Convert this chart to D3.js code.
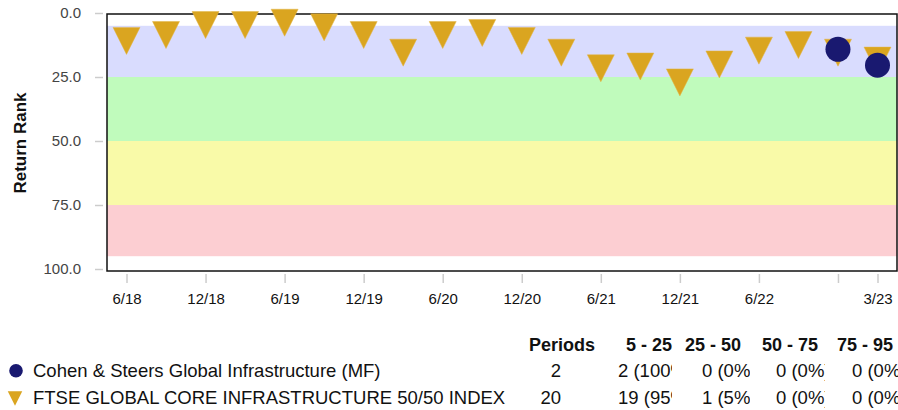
<!DOCTYPE html>
<html>
<head>
<meta charset="utf-8">
<script src="https://cdn.jsdelivr.net/npm/d3@7"></script>
<style>
  html, body { margin: 0; padding: 0; background: #fff; }
  svg { display: block; font-family: "Liberation Sans", Arial, Helvetica, sans-serif; }
</style>
</head>
<body>
<svg id="chart" width="898" height="410"></svg>
<script>
// ---------- data ----------
const quarters = ["6/18","9/18","12/18","3/19","6/19","9/19","12/19","3/20","6/20","9/20",
                  "12/20","3/21","6/21","9/21","12/21","3/22","6/22","9/22","12/22","3/23"];
const indexRanks = [10.9, 8.6, 4.7, 4.7, 3.8, 5.6, 8.6, 15.5, 8.6, 7.8,
                    10.9, 15.5, 21.6, 20.9, 27.1, 20.1, 14.7, 12.5, 15.5, 18.6];
const fundQuarters = ["12/22","3/23"];
const fundRanks = [14.2, 20.4];
const tickQuarters = ["6/18","12/18","6/19","12/19","6/20","12/20","6/21","12/21","6/22","12/22","3/23"];
const hiddenTickLabels = ["12/22"];
const yTicks = [0, 25, 50, 75, 100];
const bands = [
  {from: 5,  to: 25, color: "#D9DCFE"},
  {from: 25, to: 50, color: "#C0FBBC"},
  {from: 50, to: 75, color: "#F9FAA8"},
  {from: 75, to: 95, color: "#FCCED2"}
];
const seriesNames = ["Cohen & Steers Global Infrastructure (MF)", "FTSE GLOBAL CORE INFRASTRUCTURE 50/50 INDEX"];
const tableHeaders = ["Periods", "5 - 25", "25 - 50", "50 - 75", "75 - 95"];
const periods = ["2", "20"];
const bucketCells = [
  ["2 (100%)", "0 (0%)", "0 (0%)", "0 (0%)"],
  ["19 (95%)", "1 (5%)", "0 (0%)", "0 (0%)"]
];

// ---------- layout ----------
const svg = d3.select("#chart");
const plot = {left: 107, right: 897, top: 14, bottom: 271};
const x = d3.scalePoint().domain(quarters).range([126.5, 877.5]);
const y = d3.scaleLinear().domain([0, 100]).range([13, 269]);

// bands
svg.append("g").selectAll("rect").data(bands).join("rect")
  .attr("x", plot.left).attr("width", plot.right - plot.left)
  .attr("y", d => y(d.from)).attr("height", d => y(d.to) - y(d.from))
  .attr("fill", d => d.color);

// frame
svg.append("rect")
  .attr("x", plot.left).attr("y", plot.top)
  .attr("width", plot.right - plot.left).attr("height", plot.bottom - plot.top)
  .attr("fill", "none").attr("stroke", "#111").attr("stroke-width", 1.5);

// y axis
const yAxis = svg.append("g").attr("transform", "translate(103,0)")
  .call(d3.axisLeft(y).tickValues(yTicks).tickFormat(d3.format(".1f")).tickSizeInner(8).tickSizeOuter(0).tickPadding(14));
yAxis.select(".domain").remove();
yAxis.selectAll(".tick line").attr("stroke", "#ccc").attr("stroke-width", 1.5);
yAxis.selectAll(".tick text").attr("fill", "#444").style("font-size", "15px")
  .style("font-family", "'Liberation Sans', Arial, sans-serif");

// x axis
const xAxis = svg.append("g").attr("transform", "translate(0,274)")
  .call(d3.axisBottom(x).tickValues(tickQuarters)
    .tickFormat(d => hiddenTickLabels.includes(d) ? "" : d)
    .tickSizeInner(9).tickSizeOuter(0).tickPadding(10));
xAxis.select(".domain").remove();
xAxis.selectAll(".tick line").attr("stroke", "#ccc").attr("stroke-width", 1.5);
xAxis.selectAll(".tick text").attr("fill", "#111").style("font-size", "15px")
  .style("font-family", "'Liberation Sans', Arial, sans-serif");

// y title
svg.append("text")
  .attr("transform", "translate(26,143) rotate(-90)")
  .attr("text-anchor", "middle")
  .style("font-size", "17px").style("font-weight", "bold").attr("fill", "#111")
  .text("Return Rank");

// triangle symbol (pointing down, centred on its box)
const triDown = {
  draw(ctx, size) {
    const w = Math.sqrt(size);
    ctx.moveTo(-w / 2, -w / 2);
    ctx.lineTo(w / 2, -w / 2);
    ctx.lineTo(0, w / 2);
    ctx.closePath();
  }
};

// index points
svg.append("g").selectAll("path").data(indexRanks).join("path")
  .attr("transform", (d, i) => `translate(${x(quarters[i])},${y(d)})`)
  .attr("d", d3.symbol().type(triDown).size(27 * 27))
  .attr("fill", "#DAA520").attr("stroke", "#E2B545").attr("stroke-width", 0.5);

// fund points
svg.append("g").selectAll("circle").data(fundRanks).join("circle")
  .attr("cx", (d, i) => x(fundQuarters[i])).attr("cy", d => y(d))
  .attr("r", 12.5).attr("fill", "#191970");

// ---------- legend table ----------
const leg = svg.append("g");
leg.append("circle").attr("cx", 16).attr("cy", 370.7).attr("r", 6.8).attr("fill", "#191970");
leg.append("path").attr("transform", "translate(15,398.5)")
  .attr("d", d3.symbol().type(triDown).size(14.5 * 14.5)).attr("fill", "#DAA520");

const rowBase = [377, 403.5];
leg.selectAll("text.name").data(seriesNames).join("text").attr("class", "name")
  .attr("x", 33).attr("y", (d, i) => rowBase[i])
  .style("font-size", "18.5px").attr("fill", "#111").text(d => d);

const headerEnds = [595, 672, 741, 818, 893];
leg.selectAll("text.hdr").data(tableHeaders).join("text").attr("class", "hdr")
  .attr("x", (d, i) => headerEnds[i]).attr("y", 350.5).attr("text-anchor", "end")
  .style("font-size", "18px").style("font-weight", "bold").attr("fill", "#111").text(d => d);

leg.selectAll("text.per").data(periods).join("text").attr("class", "per")
  .attr("x", 561).attr("y", (d, i) => rowBase[i]).attr("text-anchor", "end")
  .style("font-size", "18.5px").attr("fill", "#111").text(d => d);

const cellStart = [618, 702, 776, 852];
const cellClipEnd = [672, 750, 825, 898];
const defs = svg.append("defs");
cellStart.forEach((s, c) => {
  defs.append("clipPath").attr("id", "clipc" + c)
    .append("rect").attr("x", s - 4).attr("y", 355).attr("width", cellClipEnd[c] - s + 4).attr("height", 55);
});
bucketCells.forEach((row, r) => {
  row.forEach((cell, c) => {
    leg.append("text").attr("x", cellStart[c]).attr("y", rowBase[r])
      .attr("clip-path", `url(#clipc${c})`)
      .style("font-size", "18.5px").attr("fill", "#111").text(cell);
  });
});
</script>
</body>
</html>
